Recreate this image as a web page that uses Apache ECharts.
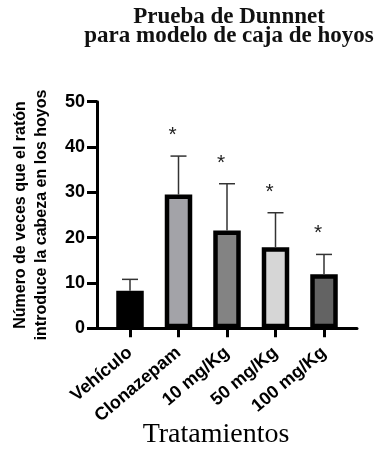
<!DOCTYPE html>
<html>
<head>
<meta charset="utf-8">
<script src="https://cdn.jsdelivr.net/npm/echarts@6/dist/echarts.min.js"></script>
<style>html,body{margin:0;padding:0;background:#fff;}#c{width:381px;height:450px;}</style>
</head>
<body>
<div id="c"></div>
<script>
const categories = ['Vehículo', 'Clonazepam', '10 mg/Kg', '50 mg/Kg', '100 mg/Kg'];
const means = [8.3, 29.5, 21.6, 17.9, 11.9];
const sd = [2.5, 8.5, 10.3, 7.6, 4.4];
const marks = ['', '*', '*', '*', '*'];
const barColors = ['#000000', '#a3a3a8', '#838383', '#d6d6d6', '#636363'];
const yTicks = [0, 10, 20, 30, 40, 50];

const chart = echarts.init(document.getElementById('c'), null, {renderer: 'canvas'});
const gTop = 101.7, gBottom = 450 - 328.3;
const option = {
  animation: false,
  backgroundColor: '#fff',
  graphic: [{
    type: 'text', x: 229, y: 7,
    style: {
      text: 'Prueba de Dunnnet\npara modelo de caja de hoyos',
      fontFamily: 'Liberation Serif', fontWeight: 'bold', fontSize: 23, lineHeight: 19.5,
      fill: '#111', align: 'center', verticalAlign: 'top'
    }
  }],
  grid: [
    {left: 97, width: 260, top: gTop, bottom: gBottom, outerBoundsMode: 'none', containLabel: false},
    {left: 105.75, width: 242.5, top: gTop, bottom: gBottom, outerBoundsMode: 'none', containLabel: false}
  ],
  xAxis: [
    {type: 'value', gridIndex: 0, min: 0, max: 1, splitLine: {show: false},
     axisTick: {show: false}, axisLabel: {show: false},
     axisLine: {show: true, lineStyle: {color: '#000', width: 3}},
     name: 'Tratamientos', nameLocation: 'middle', nameGap: 92,
     nameTextStyle: {fontFamily: 'Liberation Serif', fontSize: 28, color: '#000', padding: [0, 22, 0, 0]}},
    {type: 'category', gridIndex: 1, data: categories, boundaryGap: true,
     axisLine: {show: false},
     axisTick: {show: true, alignWithLabel: true, length: 9, lineStyle: {color: '#000', width: 3}},
     axisLabel: {rotate: 40, margin: 22, fontFamily: 'Liberation Sans', fontWeight: 'bold', fontSize: 18, color: '#000'}}
  ],
  yAxis: [
    {type: 'value', gridIndex: 0, min: yTicks[0], max: yTicks[yTicks.length - 1], interval: 10,
     splitLine: {show: false},
     axisLine: {show: true, lineStyle: {color: '#000', width: 3}},
     axisTick: {show: true, length: 10, lineStyle: {color: '#000', width: 3}},
     axisLabel: {margin: 12, fontFamily: 'Liberation Sans', fontWeight: 'bold', fontSize: 18, color: '#000'},
     name: 'Número de veces que el ratón\nintroduce la cabeza en los hoyos',
     nameLocation: 'middle', nameGap: 45, nameRotate: 90,
     nameTextStyle: {fontFamily: 'Liberation Sans', fontWeight: 'bold', fontSize: 16, lineHeight: 21, color: '#000'}},
    {type: 'value', gridIndex: 1, min: 0, max: 50, show: false, splitLine: {show: false}}
  ],
  series: [
    {type: 'bar', xAxisIndex: 1, yAxisIndex: 1, barWidth: 27.5,
     data: means.map((v, i) => ({value: v, itemStyle: {color: barColors[i]}})),
     itemStyle: {borderColor: '#000', borderWidth: 4.5}, z: 2},
    {type: 'custom', xAxisIndex: 1, yAxisIndex: 1, z: 3,
     data: means.map((v, i) => [i, v, v + sd[i]]),
     renderItem: function (params, api) {
       const i = api.value(0);
       const base = api.coord([i, api.value(1)]);
       const top = api.coord([i, api.value(2)]);
       const cap = 8;
       const children = [
         {type: 'line', shape: {x1: top[0], y1: base[1], x2: top[0], y2: top[1]}, style: {stroke: '#333', lineWidth: 1.5}},
         {type: 'line', shape: {x1: top[0] - cap, y1: top[1], x2: top[0] + cap, y2: top[1]}, style: {stroke: '#333', lineWidth: 1.5}}
       ];
       if (marks[i]) {
         children.push({type: 'text', x: top[0] - 6, y: top[1] - 21,
           style: {text: marks[i], fontFamily: 'Liberation Sans', fontSize: 21, fill: '#222', align: 'center', verticalAlign: 'middle'}});
       }
       return {type: 'group', children: children};
     }}
  ]
};
chart.setOption(option);
</script>
</body>
</html>
